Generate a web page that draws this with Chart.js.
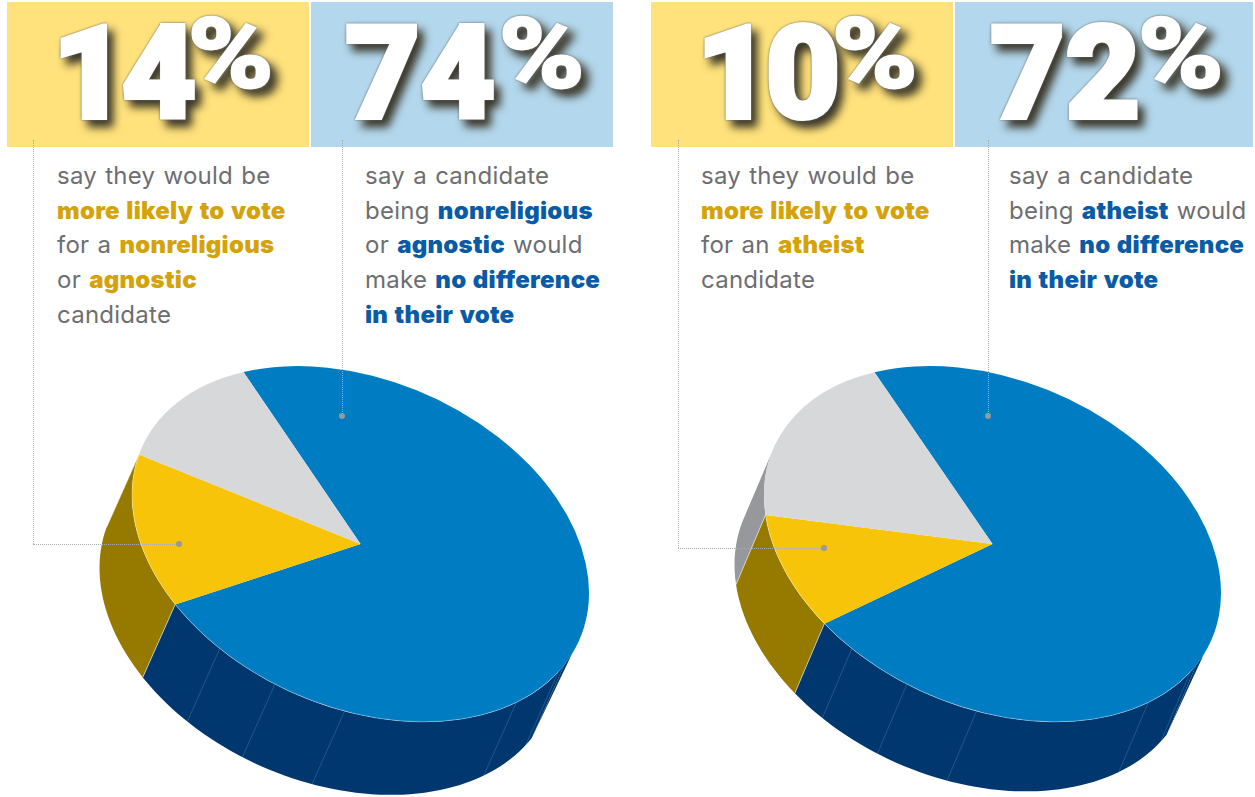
<!DOCTYPE html>
<html>
<head>
<meta charset="utf-8">
<title>Voting for nonreligious and atheist candidates</title>
<script src="https://cdn.jsdelivr.net/npm/chart.js@4"></script>
<style>
    html, body { margin: 0; background: #fff; }
    #page { position: relative; width: 1255px; height: 797px; overflow: hidden; font-family: Inter, sans-serif; }
    canvas { position: absolute; top: 340px; }
    .band { position: absolute; top: 2px; height: 145px; }
    .yellow { background: #ffe27b; }
    .blue { background: #b3d7ec; }
    .num, .pct { position: absolute; color: #fff; font-family: Roboto, sans-serif; line-height: 1; white-space: nowrap;
        filter: drop-shadow(0 0 0.8px #666) drop-shadow(6px 7px 4px #3a3628); }
    .num { top: 9px; font-size: 130px; font-weight: 900; letter-spacing: -6px; -webkit-text-stroke: 4px #fff; }
    .pct { top: 6px; font-size: 96px; font-weight: 700; -webkit-text-stroke: 3px #fff; transform: scaleX(1.2); transform-origin: left center; }
    .txt { position: absolute; top: 159px; font-size: 24px; line-height: 34.7px; letter-spacing: 0.25px; word-spacing: 1.2px; color: #6d6e71; white-space: nowrap; }
    .txt b { font-weight: 900; word-spacing: 1.4px; }
    .gold b { color: #d4a30c; }
    .navy b { color: #0a5ba6; }
    .lead { position: absolute; border: 0 dotted #a9aaac; }
    .dot { position: absolute; width: 6px; height: 6px; border-radius: 50%; background: #98999c; }
</style>
</head>
<body>
<div id="page">
    <div class="band yellow" style="left:7px;width:302px"></div>
    <div class="band blue" style="left:311px;width:302px"></div>
    <div class="band yellow" style="left:651px;width:302px"></div>
    <div class="band blue" style="left:955px;width:298px"></div>

    <span class="num" style="left:52px">14</span><span class="pct" style="left:188px">%</span>
    <span class="num" style="left:345px;letter-spacing:0">74</span><span class="pct" style="left:499px">%</span>
    <span class="num" style="left:696px">10</span><span class="pct" style="left:832px">%</span>
    <span class="num" style="left:990px;letter-spacing:0">72</span><span class="pct" style="left:1138px">%</span>

    <canvas id="leftPie" width="630" height="457" style="left:0"></canvas>
    <canvas id="rightPie" width="615" height="457" style="left:640px"></canvas>

    <div class="txt gold" style="left:57px">say they would be<br><b>more likely to vote</b><br>for a <b>nonreligious</b><br>or <b>agnostic</b><br>candidate</div>
    <div class="txt navy" style="left:365px">say a candidate<br>being <b>nonreligious</b><br>or <b>agnostic</b> would<br>make <b>no difference</b><br><b>in their vote</b></div>
    <div class="txt gold" style="left:701px">say they would be<br><b>more likely to vote</b><br>for an <b>atheist</b><br>candidate</div>
    <div class="txt navy" style="left:1009px">say a candidate<br>being <b>atheist</b> would<br>make <b>no difference</b><br><b>in their vote</b></div>

    <div class="lead" style="left:33px;top:140px;height:404px;border-left-width:1px"></div>
    <div class="lead" style="left:33px;top:544px;width:146px;border-top-width:1px"></div>
    <div class="dot" style="left:176px;top:541px"></div>
    <div class="lead" style="left:342px;top:140px;height:276px;border-left-width:1px"></div>
    <div class="dot" style="left:339px;top:413px"></div>
    <div class="lead" style="left:678px;top:140px;height:408px;border-left-width:1px"></div>
    <div class="lead" style="left:678px;top:548px;width:147px;border-top-width:1px"></div>
    <div class="dot" style="left:821px;top:545px"></div>
    <div class="lead" style="left:988px;top:140px;height:276px;border-left-width:1px"></div>
    <div class="dot" style="left:985px;top:413px"></div>
</div>

<script>
// Values, same order on both pies (printed labels round them)
const categories = ['No difference in their vote', 'More likely to vote', 'Other'];
const nonreligiousValues = [73.6, 13.9, 12.5];
const atheistValues = [71.8, 10, 18.2];

const topColors = ['#007dc2', '#f7c409', '#d7d8da'];
const wallColors = ['#00376f', '#967a00', '#97989c'];
// facet lines on the blue wall, degrees clockwise from 3 o'clock
const seamAngles = [30, 47, 94, 112, 128];

// the tilt: unit circle -> page pixels
const tilt = { ux: 228.5, uy: 49, vx: 0, vy: 171 };

const rad = deg => deg * Math.PI / 180;

// Draws the pie through an affine tilt and puts the side wall under it
const pie3d = {
    id: 'pie3d',
    beforeDatasetsDraw(chart, args, opts) {
        const ctx = chart.ctx;
        const arcs = chart.getDatasetMeta(0).data;
        const { x, y, outerRadius: R } = arcs[0];
        const a = tilt.ux / R, b = tilt.uy / R, c = tilt.vx / R, d = tilt.vy / R;

        ctx.save();
        ctx.transform(a, b, c, d, opts.cx - a * x - c * y, opts.cy - b * x - d * y);

        const ox = opts.wall[0] / a;
        const oy = (opts.wall[1] - b * ox) / d;
        const rim = t => [x + R * Math.cos(t), y + R * Math.sin(t)];
        const foot = t => [x + ox + R * Math.cos(t), y + oy + R * Math.sin(t)];

        // the wall is swept in small steps, one path, so its side edges stay straight
        const sweep = (from, to, color) => {
            ctx.beginPath();
            for (let t = from; t < to; t += rad(2)) {
                const next = Math.min(t + rad(2), to);
                ctx.moveTo(...rim(t));
                ctx.lineTo(...rim(next));
                ctx.lineTo(...foot(next));
                ctx.lineTo(...foot(t));
                ctx.closePath();
            }
            ctx.fillStyle = color;
            ctx.fill();
        };

        // back to front so nearer walls cover farther ones
        if (opts.greyWall) sweep(arcs[2].startAngle, rad(557), wallColors[2]);
        sweep(arcs[1].startAngle, arcs[1].endAngle, wallColors[1]);
        sweep(rad(387), arcs[0].endAngle, wallColors[0]);

        // straight outer edge on the right of the blue wall
        ctx.beginPath();
        ctx.moveTo(...rim(rad(22.5)));
        ctx.lineTo(...foot(rad(27)));
        ctx.lineTo(...rim(rad(27)));
        ctx.closePath();
        ctx.fillStyle = wallColors[0];
        ctx.fill();

        // light edges between walls
        ctx.lineWidth = 0.8;
        ctx.strokeStyle = 'rgba(255,255,255,0.75)';
        [arcs[1].startAngle, arcs[1].endAngle].forEach(t => {
            ctx.beginPath();
            ctx.moveTo(...rim(t));
            ctx.lineTo(...foot(t));
            ctx.stroke();
        });

        ctx.lineWidth = 0.6;
        ctx.strokeStyle = 'rgba(255,255,255,0.28)';
        seamAngles.forEach(deg => {
            ctx.beginPath();
            ctx.moveTo(...rim(rad(deg)));
            ctx.lineTo(...foot(rad(deg)));
            ctx.stroke();
        });
    },
    afterDatasetsDraw(chart) {
        const ctx = chart.ctx;
        const arcs = chart.getDatasetMeta(0).data;
        const { x, y, outerRadius: R } = arcs[0];

        // thin pale line where the top meets the front wall
        ctx.lineWidth = 0.7;
        ctx.strokeStyle = 'rgba(255,255,255,0.55)';
        ctx.beginPath();
        ctx.arc(x, y, R, rad(30), arcs[1].endAngle % (2 * Math.PI));
        ctx.stroke();
        ctx.restore();
    }
};

function makePie(id, values, rotation, cx, cy, wall, greyWall) {
    return new Chart(document.getElementById(id), {
        type: 'pie',
        data: {
            labels: categories,
            datasets: [{ data: values, backgroundColor: topColors, borderWidth: 0, clip: false }]
        },
        options: {
            responsive: false,
            animation: false,
            rotation: rotation,
            plugins: {
                legend: { display: false },
                tooltip: { enabled: false },
                pie3d: { cx: cx, cy: cy, wall: wall, greyWall: greyWall }
            }
        },
        plugins: [pie3d]
    });
}

// centres are in canvas pixels, wall is the drop of the bottom rim in pixels
makePie('leftPie', nonreligiousValues, 329.2, 360.5, 204, [-32.5, 73], false);
makePie('rightPie', atheistValues, 328.9, 352.5, 204, [-29.5, 69.5], true);
</script>
</body>
</html>
